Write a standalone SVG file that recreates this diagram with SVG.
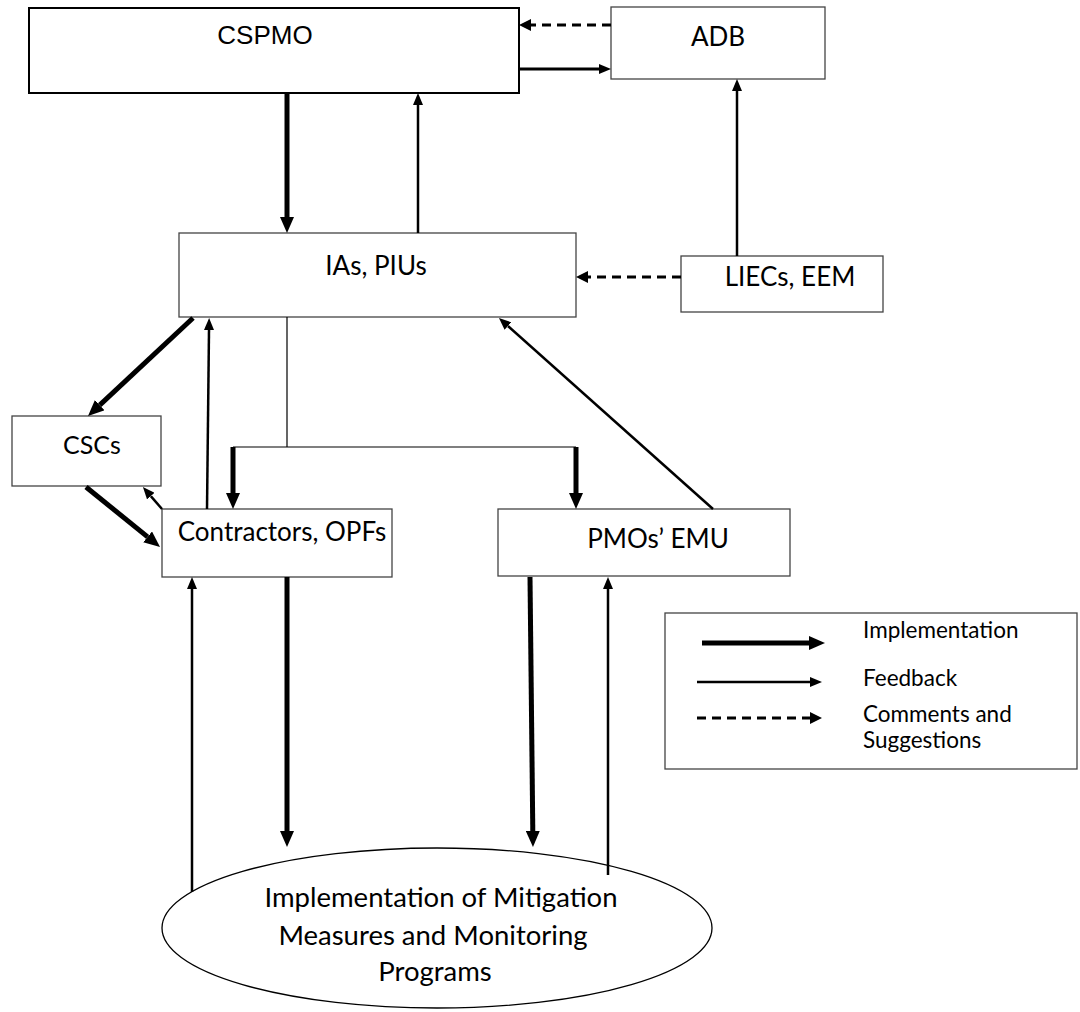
<svg xmlns="http://www.w3.org/2000/svg" width="1080" height="1012" viewBox="0 0 1080 1012">
<style>
.box{fill:#fff;stroke:#444;stroke-width:1.3}
.t{font-family:Lato,"Open Sans",sans-serif;font-size:26px;fill:#000;text-anchor:middle}
.te{font-family:Lato,"Open Sans",sans-serif;font-size:27.5px;fill:#000;text-anchor:middle}
.ta{font-family:"Liberation Sans",Arial,sans-serif;font-size:26px;fill:#000;text-anchor:middle}
.lg{font-family:Lato,"Open Sans",sans-serif;font-size:22.5px;fill:#000}
.impl{stroke:#000;stroke-width:5;fill:none;marker-end:url(#hi)}
.fb{stroke:#000;stroke-width:2.5;fill:none;marker-end:url(#hf)}
.dash{stroke:#000;stroke-width:3;fill:none;stroke-dasharray:9 6;marker-end:url(#hd)}
.thin{stroke:#000;stroke-width:1.2;fill:none}
</style>
<defs>
<marker id="hi" markerUnits="userSpaceOnUse" markerWidth="16" markerHeight="14" refX="0" refY="7" orient="auto"><path d="M0,0 L16,7 L0,14 z" fill="#000"/></marker>
<marker id="hf" markerUnits="userSpaceOnUse" markerWidth="12" markerHeight="10" refX="0" refY="5" orient="auto"><path d="M0,0 L12,5 L0,10 z" fill="#000"/></marker>
<marker id="hd" markerUnits="userSpaceOnUse" markerWidth="12" markerHeight="12" refX="0" refY="6" orient="auto"><path d="M0,0 L12,6 L0,12 z" fill="#000"/></marker>
</defs>
<g id="cspmo"><rect x="29" y="8" width="490" height="85" fill="#fff" stroke="#000" stroke-width="2"/><text class="ta" x="265" y="44">CSPMO</text></g>
<g id="adb"><rect class="box" x="611" y="7" width="214" height="72"/><text class="t" x="718" y="46">ADB</text></g>
<g id="ias"><rect class="box" x="179" y="233" width="397" height="84"/><text class="t" x="376" y="275">IAs, PIUs</text></g>
<g id="liecs"><rect class="box" x="681" y="256" width="202" height="56"/><text class="t" x="790" y="286">LIECs, EEM</text></g>
<g id="cscs"><rect class="box" x="12" y="416" width="149" height="70"/><text class="t" x="92" y="454" style="font-size:25px">CSCs</text></g>
<g id="contractors"><rect class="box" x="162" y="509" width="230" height="68"/><text class="t" x="282" y="541">Contractors, OPFs</text></g>
<g id="pmos"><rect class="box" x="498" y="509" width="292" height="67"/><text class="t" x="658" y="548">PMOs’ EMU</text></g>
<g id="mitigation"><ellipse cx="437" cy="928" rx="275" ry="80" fill="#fff" stroke="#000" stroke-width="1.3"/>
<text class="te" x="441" y="907">Implementation of Mitigation</text>
<text class="te" x="433" y="945">Measures and Monitoring</text>
<text class="te" x="435" y="981">Programs</text></g>
<g id="connectors">
<line class="impl" x1="287" y1="93" x2="287" y2="217"/>
<line class="fb" x1="418" y1="233" x2="418" y2="105"/>
<line class="fb" x1="519" y1="69" x2="599" y2="69" style="stroke-width:3"/>
<line class="dash" x1="611" y1="25" x2="531" y2="25"/>
<line class="fb" x1="737" y1="256" x2="737" y2="91"/>
<line class="dash" x1="681" y1="277" x2="588" y2="277"/>
<line class="impl" x1="193" y1="318" x2="99.7" y2="405.1"/>
<line class="impl" x1="86" y1="487" x2="147.6" y2="536.9"/>
<line class="fb" x1="162" y1="509" x2="150.8" y2="496.1"/>
<line class="fb" x1="207" y1="509" x2="209" y2="330"/>
<path class="thin" d="M287,317 V447 M233,447 H576"/>
<line class="impl" x1="233" y1="447" x2="233" y2="493"/>
<line class="impl" x1="576" y1="447" x2="576" y2="493"/>
<line class="fb" x1="713" y1="509" x2="507.9" y2="326"/>
<line class="impl" x1="287" y1="577" x2="287" y2="831"/>
<line class="impl" x1="530" y1="577" x2="532.8" y2="831"/>
<line class="fb" x1="192" y1="892" x2="192" y2="589"/>
<line class="fb" x1="608" y1="875" x2="608" y2="589"/>
</g>
<g id="legend">
<rect class="box" x="665" y="613" width="412" height="156"/>
<line class="impl" x1="702" y1="643" x2="809" y2="643"/>
<line class="fb" x1="697" y1="682" x2="810" y2="682"/>
<line class="dash" x1="697" y1="718" x2="810" y2="718"/>
<text class="lg" x="863" y="638">Implementation</text>
<text class="lg" x="863" y="686">Feedback</text>
<text class="lg" x="863" y="722">Comments and</text>
<text class="lg" x="863" y="748">Suggestions</text>
</g>
</svg>
